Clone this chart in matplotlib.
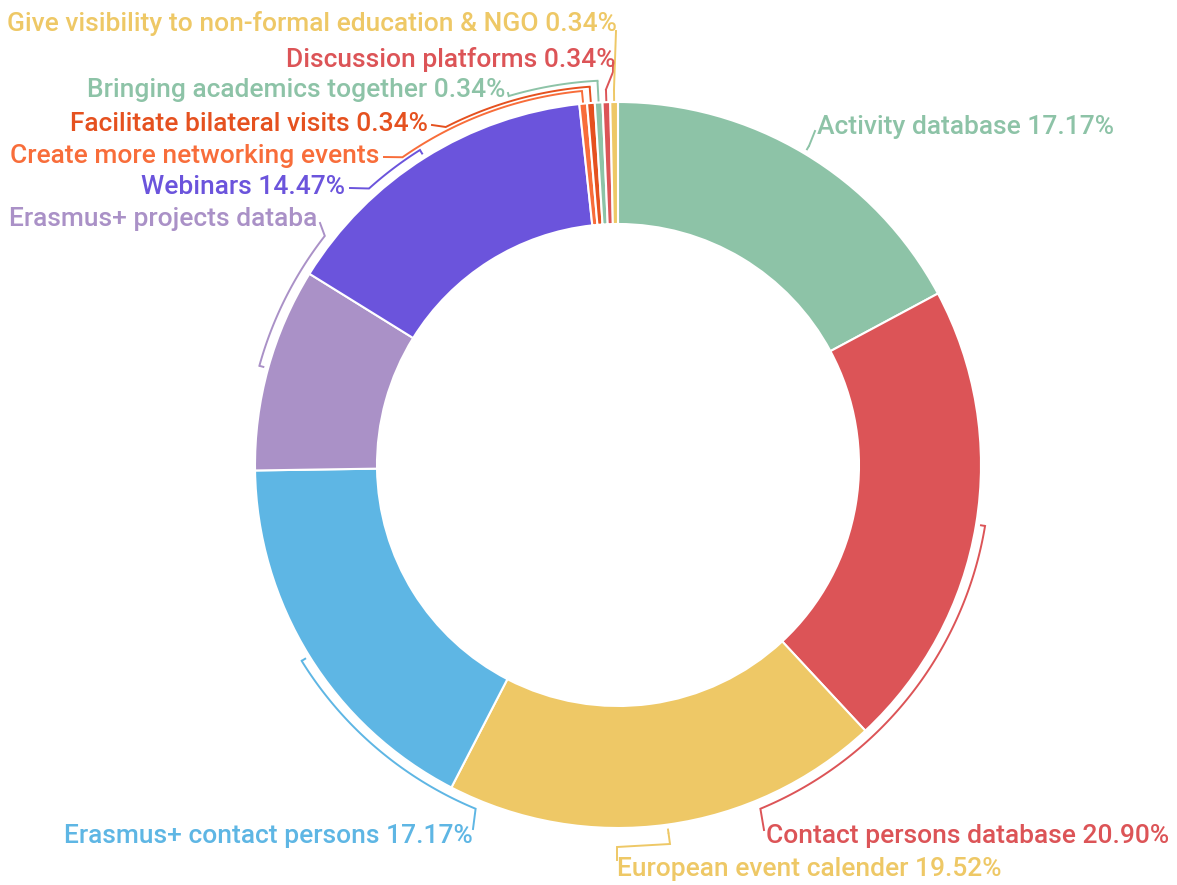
"""
Donut chart of requested platform features, with arc-style leader lines.
"""
import numpy as np
import matplotlib
matplotlib.use('Agg')
import matplotlib.pyplot as plt

# Data (clockwise from 12 o'clock)
labels = ['Activity database', 'Contact persons database', 'European event calender',
          'Erasmus+ contact persons', 'Erasmus+ projects databa', 'Webinars',
          'Create more networking events', 'Facilitate bilateral visits',
          'Bringing academics together', 'Discussion platforms',
          'Give visibility to non-formal education & NGO']
values = [17.17, 20.90, 19.52, 17.17, 9.07, 14.47, 0.34, 0.34, 0.34, 0.34, 0.34]
show_pct = [True, True, True, True, False, True, False, True, True, True, True]
colors = ['#8dc3a7', '#dc5457', '#eec866', '#5eb6e4', '#aa91c7', '#6b54dc',
          '#f86d3a', '#e5511f', '#8dc3a7', '#dc5457', '#eec866']

# Layout (pixels of the 1177x885 canvas)
W, H = 1177, 885
CX, CY, R = 618, 465, 363
# arc radius, arc end angle (None = slice middle), tail points, label xy, alignment
layout = [
    (1.025, None, [(815, 131)], (817, 127), 'left'),
    (1.025, 157.5, [(764, 830)], (766, 836), 'left'),
    (1.025, None, [(670, 844), (617, 847), (617, 860)], (617, 869), 'left'),
    (1.025, 202.5, [(473, 829)], (473, 836), 'right'),
    (1.025, 308.0, [(320, 223)], (317, 219), 'right'),
    (1.025, 318.0, [(350, 188)], (345, 187), 'right'),
    (1.035, 325.0, [(384, 157)], (379, 156), 'right'),
    (1.045, 333.0, [(432, 125)], (428, 124), 'right'),
    (1.06, 343.5, [(508, 93)], (505, 90), 'right'),
    (1.035, None, [(613, 72), (613, 63)], (615, 59), 'right'),
    (1.035, None, [(616, 31)], (617, 23), 'right'),
]


def px(x, y):
    """Canvas pixels -> data units (centre at 0, outer radius 1)."""
    return (x - CX) / R, (CY - y) / R


def polar(r, theta):
    t = np.radians(theta)
    return r * np.sin(t), r * np.cos(t)


plt.rcParams['font.family'] = ['Roboto', 'DejaVu Sans']

fig = plt.figure(figsize=(W / 100, H / 100), dpi=100)
ax = fig.add_axes([0, 0, 1, 1])

ax.pie(values, colors=colors, startangle=90, counterclock=False, radius=1,
       wedgeprops=dict(width=1 - 241 / 363, edgecolor='white', linewidth=1.5))

total = sum(values)
bounds = np.concatenate([[0], np.cumsum(values)]) / total * 360
mids = (bounds[:-1] + bounds[1:]) / 2

for i, (lab, val, col) in enumerate(zip(labels, values, colors)):
    r_arc, th_end, tail, (lx, ly), ha = layout[i]
    mid = mids[i]
    tiny = val < 1
    # tick / radial stub at slice middle
    r0 = 1.003 if tiny else r_arc - 0.014
    x0, y0 = polar(np.array([r0, r_arc]), mid)
    ax.plot(x0, y0, color=col, lw=1.4, solid_capstyle='butt')
    # arc along the ring
    if th_end is None:
        th_end = mid
    th = np.linspace(mid, th_end, 100)
    ax_, ay_ = polar(r_arc, th)
    xs = list(ax_) + [px(*p)[0] for p in tail]
    ys = list(ay_) + [px(*p)[1] for p in tail]
    ax.plot(xs, ys, color=col, lw=1.4, solid_joinstyle='miter')
    text = f'{lab} {val:.2f}%' if show_pct[i] else lab
    tx, ty = px(lx, ly)
    ax.text(tx, ty, text, color=col, fontsize=19, ha=ha, va='center',
            fontweight='medium')

ax.set_xlim(-CX / R, (W - CX) / R)
ax.set_ylim(-(H - CY) / R, CY / R)
ax.set_aspect('auto')
ax.axis('off')

plt.savefig('out.png', dpi=100, facecolor='white')
